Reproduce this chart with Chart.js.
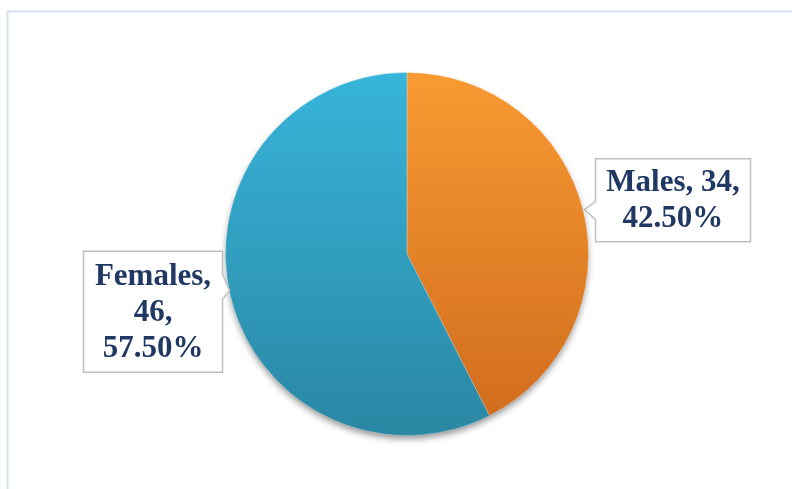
<!DOCTYPE html>
<html>
<head>
<meta charset="utf-8">
<script src="https://cdn.jsdelivr.net/npm/chart.js@4/dist/chart.umd.min.js"></script>
<style>
  html, body { margin: 0; padding: 0; background: #fff; }
  #wrap { width: 792px; height: 489px; position: relative; }
</style>
</head>
<body>
<div id="wrap"><canvas id="grafico" width="792" height="489"></canvas></div>
<script>
// Datos del gráfico
const categorias = ['Males', 'Females'];
const valores = [34, 46];
const porcentajes = ['42.50%', '57.50%'];

// Colores (arriba / abajo del degradado)
const coloresArriba = ['#f99a32', '#37b4da'];
const coloresAbajo = ['#cf6a1d', '#2a87a3'];

// Líneas de texto de cada etiqueta
const lineasEtiqueta = [
    [categorias[0] + ', ' + valores[0] + ',', porcentajes[0]],
    [categorias[1] + ',', valores[1] + ',', porcentajes[1]]
];

// Marco exterior de la imagen
const marcoPlugin = {
    id: 'marco',
    beforeDraw(chart) {
        const ctx = chart.ctx;
        ctx.save();
        ctx.strokeStyle = '#d5e2f0';
        ctx.lineWidth = 2;
        ctx.beginPath();
        ctx.moveTo(7.5, 500);
        ctx.lineTo(7.5, 11.5);
        ctx.lineTo(800, 11.5);
        ctx.stroke();
        ctx.restore();
    }
};

// Sombra debajo del pastel
const sombraPlugin = {
    id: 'sombra',
    beforeDatasetsDraw(chart) {
        const arc = chart.getDatasetMeta(0).data[0];
        if (!arc) return;
        const ctx = chart.ctx;
        ctx.save();
        ctx.shadowColor = 'rgba(0,0,0,0.45)';
        ctx.shadowBlur = 7;
        ctx.shadowOffsetY = 4;
        ctx.fillStyle = '#888';
        ctx.beginPath();
        ctx.arc(arc.x, arc.y, arc.outerRadius - 1, 0, Math.PI * 2);
        ctx.fill();
        ctx.restore();
    }
};

// Etiquetas con globo (callout)
const etiquetasPlugin = {
    id: 'etiquetas',
    afterDatasetsDraw(chart) {
        const ctx = chart.ctx;
        const meta = chart.getDatasetMeta(0);
        meta.data.forEach((arc, i) => {
            const medio = (arc.startAngle + arc.endAngle) / 2;
            const px = arc.x + Math.cos(medio) * arc.outerRadius;
            const py = arc.y + Math.sin(medio) * arc.outerRadius;
            const lineas = lineasEtiqueta[i];
            const alto = i === 0 ? 83 : 121;
            const ancho = i === 0 ? 155 : 139;
            let bx, by;
            if (i === 0) {
                bx = px + 12;
                by = py - 53;
            } else {
                bx = px - 8 - ancho;
                by = py - 45;
            }
            ctx.save();
            ctx.fillStyle = '#ffffff';
            ctx.strokeStyle = '#bfbfbf';
            ctx.lineWidth = 1.5;
            ctx.beginPath();
            if (i === 0) {
                ctx.moveTo(bx, by);
                ctx.lineTo(bx + ancho, by);
                ctx.lineTo(bx + ancho, by + alto);
                ctx.lineTo(bx, by + alto);
                ctx.lineTo(bx, py + 8);
                ctx.lineTo(px + 1, py - 2);
                ctx.lineTo(bx, py - 10);
                ctx.closePath();
            } else {
                ctx.moveTo(bx, by);
                ctx.lineTo(bx + ancho, by);
                ctx.lineTo(bx + ancho, py - 22);
                ctx.lineTo(px - 1, py - 6);
                ctx.lineTo(bx + ancho, py + 3);
                ctx.lineTo(bx + ancho, by + alto);
                ctx.lineTo(bx, by + alto);
                ctx.closePath();
            }
            ctx.fill();
            ctx.stroke();

            ctx.fillStyle = '#1f3864';
            ctx.font = 'bold 31px "Liberation Serif", "Times New Roman", serif';
            ctx.textAlign = 'center';
            ctx.textBaseline = 'middle';
            const interlinea = 36;
            const y0 = by + alto / 2 - (lineas.length - 1) * interlinea / 2;
            lineas.forEach((t, k) => {
                ctx.fillText(t, bx + ancho / 2, y0 + k * interlinea + 1);
            });
            ctx.restore();
        });
    }
};

const degradado = (context) => {
    const chart = context.chart;
    const area = chart.chartArea;
    if (!area) return coloresArriba[context.dataIndex];
    const g = chart.ctx.createLinearGradient(0, area.top, 0, area.bottom);
    g.addColorStop(0, coloresArriba[context.dataIndex]);
    g.addColorStop(1, coloresAbajo[context.dataIndex]);
    return g;
};

const datos = {
    labels: categorias,
    datasets: [{
        data: valores,
        backgroundColor: degradado,
        borderColor: 'rgba(255,255,255,0.25)',
        borderWidth: 1
    }]
};

const opciones = {
    responsive: false,
    animation: false,
    layout: {
        padding: { top: 72, bottom: 53, left: 225, right: 203 }
    },
    plugins: {
        legend: { display: false },
        tooltip: { enabled: false }
    }
};

const ctx = document.getElementById('grafico').getContext('2d');
const miGrafico = new Chart(ctx, {
    type: 'pie',
    data: datos,
    options: opciones,
    plugins: [marcoPlugin, sombraPlugin, etiquetasPlugin]
});
</script>
</body>
</html>
